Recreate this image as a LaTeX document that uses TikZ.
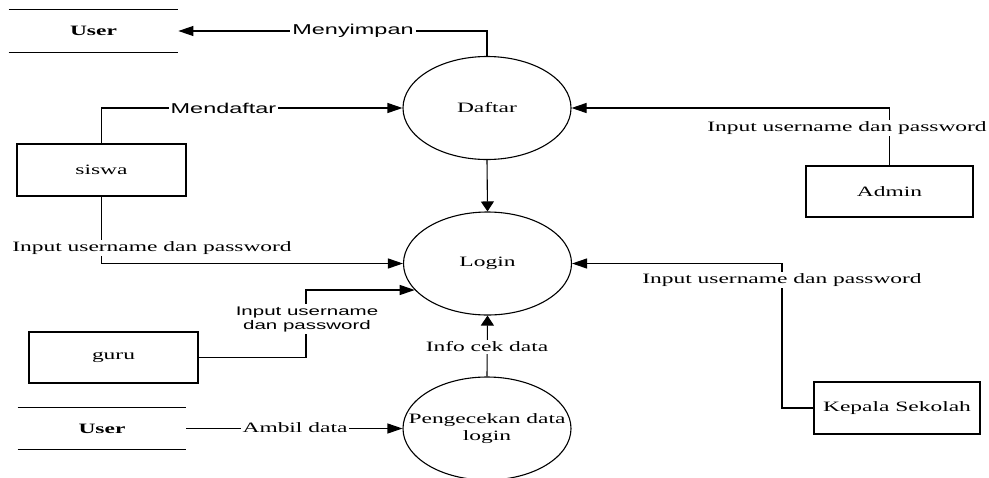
\documentclass[tikz,border=0pt]{standalone}
\usepackage{fontspec}
\setmainfont{Liberation Serif}[FakeStretch=1.64]
\setsansfont{Liberation Sans}[FakeStretch=1.64]
\usetikzlibrary{arrows.meta,shapes.geometric}
\begin{document}
\begin{tikzpicture}[x=0.5pt,y=-0.5pt,
  every node/.style={font=\fontsize{7.15}{8.5}\selectfont},
  proc/.style={ellipse, draw, line width=0.55pt, minimum width=84pt, minimum height=51.5pt, inner sep=0pt},
  ent/.style={rectangle, draw, line width=0.55pt, minimum width=84pt, minimum height=26pt, inner sep=0pt},
  store/.style={rectangle, minimum width=84.5pt, minimum height=20.75pt, inner sep=0pt, font=\bfseries\fontsize{7.15}{8.5}\selectfont},
  storeline/.style={line width=0.55pt},
  conn/.style={line width=0.55pt},
  hflow/.style={conn, -{Triangle[length=7.5pt,width=5pt]}},
  vflow/.style={conn, -{Triangle[length=5pt,width=6.5pt]}},
  lbl/.style={fill=white, inner sep=1pt},
  slbl/.style={lbl, font=\sffamily\fontsize{7.15}{8.5}\selectfont},
]
\useasboundingbox (0,0) rectangle (989,477);

% processes
\node[proc, label=center:Daftar] (daftar) at (487,108) {};
\node[proc, label=center:Login] (login) at (487.5,263.5) {};
\node[proc, label={[align=center, font={\fontsize{7.15}{8.5}\selectfont\lineskiplimit=-20pt}]center:Pengecekan data\\login}] (cek) at (487,428.5) {};

% external entities
\node[ent, minimum width=84.5pt] (siswa) at (101.5,170) {siswa};
\node[ent, minimum width=83.5pt, minimum height=25.5pt] (admin) at (889.5,191.5) {Admin};
\node[ent, minimum width=84.5pt, minimum height=25.5pt] (guru) at (113.5,357.5) {guru};
\node[ent, minimum width=83pt] (kepala) at (897,408) {Kepala Sekolah};

% data stores
\node[store] (u1) at (93.5,31) {User};
\draw[storeline] (u1.north west) -- (u1.north east) (u1.south west) -- (u1.south east);
\node[store, minimum width=84pt] (u2) at (102,428.5) {User};
\draw[storeline] (u2.north west) -- (u2.north east) (u2.south west) -- (u2.south east);

% helper coordinates
\coordinate (gk) at (306,290);
\coordinate (kk) at (782,263.5);

% flows
\draw[hflow] (daftar.north) |- (u1.east);
\draw[hflow] (siswa.north) |- (daftar.west);
\draw[hflow] (admin.north) |- (daftar.east);
\draw[vflow] (daftar.south) -- (login.north);
\draw[hflow] (siswa.south) |- (login.west);
\draw[hflow] (guru.east) -| (gk) -- (gk -| login.200);
\draw[hflow] (kepala.west) -| (kk) -- (login.east);
\draw[vflow] (cek.north) -- (login.south);
\draw[hflow] (u2.east) -- (cek.west);

% flow labels
\node[slbl] (lmenyimpan) at (353,31) {Menyimpan};
\node[slbl] (lmendaftar) at (223.5,108) {Mendaftar};
\node[lbl] (ladmin) at (847,128) {Input username dan password};
\node[lbl] (lsiswa) at (152,248) {Input username dan password};
\node[lbl, align=center, font=\sffamily\fontsize{6.25}{7}\selectfont] (lguru) at (307,319) {Input username\\dan password};
\node[lbl] (lkepala) at (782,280) {Input username dan password};
\node[lbl] (linfo) at (487,347) {Info cek data};
\node[lbl] (lambil) at (295,428) {Ambil data};
\end{tikzpicture}
\end{document}
